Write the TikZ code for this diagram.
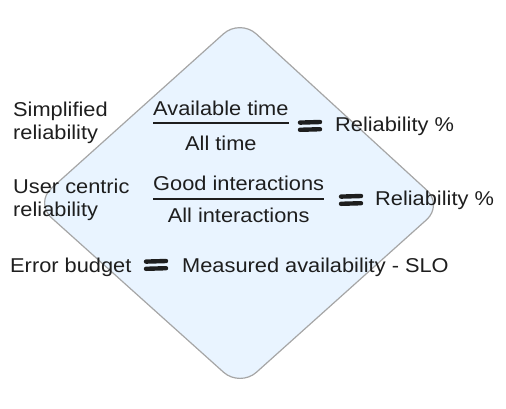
\documentclass[tikz,border=0pt]{standalone}
\usepackage{fontspec}
\setmainfont[FakeStretch=1.09]{Liberation Sans}
\usetikzlibrary{calc}
\definecolor{diamondfill}{HTML}{E9F4FF}
\definecolor{diamondline}{HTML}{A6A6A6}
\definecolor{ink}{HTML}{1E1E1E}
\tikzset{
  txt/.style={inner sep=0pt, text=ink, font=\fontsize{20}{23}\selectfont},
  twoline/.style={txt, align=left, anchor=west},
  fracbar/.style={draw=ink, line width=2.6pt},
  eqstroke/.style={draw=ink, line width=4.4pt, line cap=round},
  eqsign/.pic={
    \draw[eqstroke] (-10,-3.4) -- (10,-4);
    \draw[eqstroke] (-10,3.8) -- (10,3.2);
  }
}

\begin{document}
\begin{tikzpicture}[x=1pt,y=-1pt]
  \useasboundingbox (0,0) rectangle (506,408);

  % the rounded diamond behind the text
  \draw[diamondline, fill=diamondfill, line width=1.2pt, rounded corners=22pt]
    (240,19) -- (443,205) -- (240,387) -- (35,203) -- cycle;

  % simplified reliability
  \node[twoline] (simple) at (13,123) {Simplified\\reliability};
  \node[txt, anchor=base west] (num1) at (153,115) {Available time};
  \draw[fracbar] ([yshift=-8pt]num1.base west) -- coordinate (bar1) ([yshift=-8pt]num1.base east);
  \node[txt, anchor=base] (den1) at (bar1 |- 0,150) {All time};
  \pic at (310,126) {eqsign};
  \node[txt, anchor=base west] (rel1) at (335,131) {Reliability \%};

  % user centric reliability
  \node[twoline] (user) at (13,200) {User centric\\reliability};
  \node[txt, anchor=base west] (num2) at (153,190) {Good interactions};
  \draw[fracbar] ([yshift=-9pt]num2.base west) -- coordinate (bar2) ([yshift=-9pt]num2.base east);
  \node[txt, anchor=base] (den2) at (bar2 |- 0,222) {All interactions};
  \pic at (351,200) {eqsign};
  \node[txt, anchor=base west] (rel2) at (375,205) {Reliability \%};

  % error budget
  \node[txt, anchor=base west] (budget) at (10,272) {Error budget};
  \pic at (156,265) {eqsign};
  \node[txt, anchor=base west] (measured) at (182,272) {Measured availability - SLO};
\end{tikzpicture}
\end{document}
